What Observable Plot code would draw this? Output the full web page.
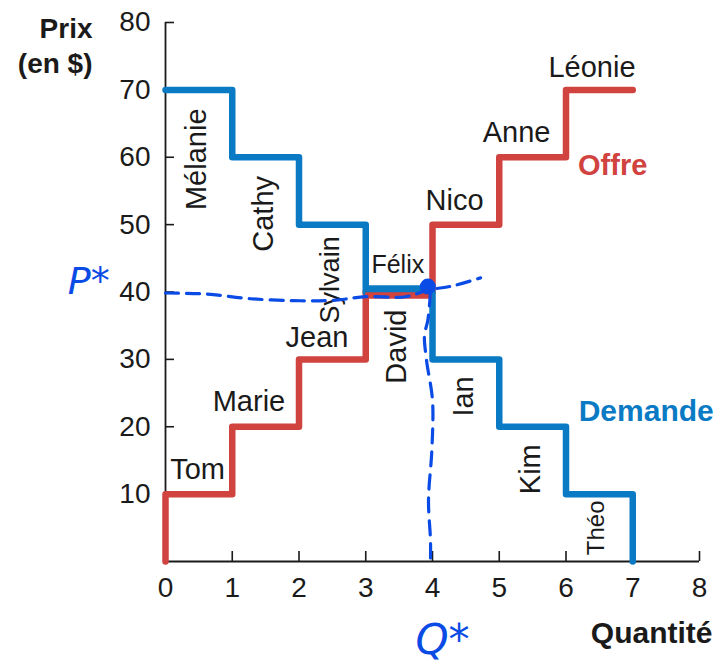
<!DOCTYPE html>
<html>
<head>
<meta charset="utf-8">
<script src="https://cdn.jsdelivr.net/npm/d3@7"></script>
<script src="https://cdn.jsdelivr.net/npm/@observablehq/plot@0.6"></script>
<style>
  html, body { margin: 0; padding: 0; background: #ffffff; }
  #chart svg { display: block; }
</style>
</head>
<body>
<div id="chart"></div>
<script>
// ---------- data ----------
const sellers = ["Tom", "Marie", "Jean", "David", "Nico", "Anne", "Léonie"];
const sellerCosts = [10, 20, 30, 40, 50, 60, 70];
const buyers = ["Mélanie", "Cathy", "Sylvain", "Félix", "Ian", "Kim", "Théo"];
const buyerValues = [70, 60, 50, 40, 30, 20, 10];

// step vertices (quantity, price)
const supplyQty = [0, 0, 1, 2, 3, 4, 5, 6, 7];
const supplyPrice = [0, 10, 20, 30, 40, 50, 60, 70, 70];
const demandQty = [0, 1, 2, 3, 4, 5, 6, 7];
const demandPrice = [70, 60, 50, 40, 30, 20, 10, 0];

const xTicks = [0, 1, 2, 3, 4, 5, 6, 7, 8];
const yTicks = [10, 20, 30, 40, 50, 60, 70, 80];

// shared step (equilibrium)
const eqPrice = 40, eqQFrom = 3, eqQTo = 4;

// hand-drawn annotations (quantity, price)
const pStarQ = [0, 0.6, 1.27, 2.02, 2.55, 3.0, 3.6, 3.94, 4.3, 4.72];
const pStarP = [39.85, 39.7, 39.0, 38.7, 38.8, 39.3, 39.3, 40.3, 40.9, 42.1];
const qStarQ = [3.97, 3.93, 3.88, 3.91, 4.0, 3.99, 3.94, 3.97, 3.97];
const qStarP = [40, 35.8, 33.6, 29.9, 23.9, 16.5, 9.1, 3.1, 0.1];

// ---------- layout of name labels (offsets from step centre) ----------
const sellerLayout = [
  {dx: -0.02, dy: 2.3, rot: false, size: 29},
  {dx: -0.25, dy: 2.4, rot: false, size: 29},
  {dx: -0.23, dy: 1.8, rot: false, size: 29},
  {dx: -0.04, dy: -8.1, rot: true, size: 29},
  {dx: -0.17, dy: 2.2, rot: false, size: 29},
  {dx: -0.24, dy: 2.3, rot: false, size: 29},
  {dx: -0.11, dy: 1.9, rot: false, size: 29}
];
const buyerLayout = [
  {dx: -0.03, dy: -10.3, rot: true, size: 29},
  {dx: -0.03, dy: -8.4, rot: true, size: 29},
  {dx: -0.03, dy: -8.2, rot: true, size: 27},
  {dx: -0.02, dy: 2.8, rot: false, size: 25},
  {dx: -0.03, dy: -5.5, rot: true, size: 29},
  {dx: -0.03, dy: -6.3, rot: true, size: 29},
  {dx: -0.04, dy: -5.0, rot: true, size: 24}
];

const RED = "#d0433f";
const BLUE = "#0a7ac4";
const PEN = "#0a4be6";
const INK = "#1a1a1a";

const supply = supplyQty.map((q, i) => ({q, p: supplyPrice[i]}));
const demand = demandQty.map((q, i) => ({q, p: demandPrice[i]}));
const pStar = pStarQ.map((q, i) => ({q, p: pStarP[i]}));
const qStar = qStarQ.map((q, i) => ({q, p: qStarP[i]}));

const labels = [
  ...sellers.map((name, i) => ({name, x: i + 0.5 + sellerLayout[i].dx, y: sellerCosts[i] + sellerLayout[i].dy, ...sellerLayout[i]})),
  ...buyers.map((name, i) => ({name, x: i + 0.5 + buyerLayout[i].dx, y: buyerValues[i] + buyerLayout[i].dy, ...buyerLayout[i]}))
];

const W = 719, H = 663;
const mL = 165, mR = 20, mT = 22, mB = 102;
const frameW = W - mL - mR, frameH = H - mT - mB;

const textMarks = labels.map(d => Plot.text([d], {
  x: "x", y: "y", text: "name",
  fontSize: d.size,
  fill: INK,
  rotate: d.rot ? -90 : 0,
  textAnchor: "middle",
  lineAnchor: d.rot ? "middle" : "bottom"
}));

const chart = Plot.plot({
  width: W, height: H,
  marginLeft: mL, marginRight: mR, marginTop: mT, marginBottom: mB,
  x: {domain: [0, 8]},
  y: {domain: [0, 80]},
  style: {fontFamily: '"Liberation Sans", Arial, Helvetica, sans-serif', fontSize: "28px", color: INK, background: "white", overflow: "visible"},
  marks: [
    // axes
    Plot.axisX(xTicks, {tickSize: 0, tickPadding: 16, fontSize: 28, label: null}),
    Plot.axisY(yTicks, {tickSize: 0, tickPadding: 15, fontSize: 28, label: null}),
    Plot.tickX(xTicks.slice(1), {x: d => d, stroke: INK, strokeWidth: 1.6, insetTop: frameH - 10}),
    Plot.tickY(yTicks, {y: d => d, stroke: INK, strokeWidth: 1.6, insetRight: frameW - 9}),
    Plot.ruleY([0], {stroke: INK, strokeWidth: 1.8}),
    Plot.ruleX([0], {stroke: INK, strokeWidth: 1.8}),

    // supply & demand steps
    Plot.line(supply, {x: "q", y: "p", curve: "step-after", stroke: RED, strokeWidth: 6.5, strokeLinecap: "round", strokeLinejoin: "round"}),
    Plot.line(demand, {x: "q", y: "p", curve: "step-after", stroke: BLUE, strokeWidth: 6.5, strokeLinecap: "round", strokeLinejoin: "round"}),
    Plot.ruleY([eqPrice], {x1: eqQFrom, x2: eqQTo, stroke: RED, strokeWidth: 6.5, dy: 3.5}),
    Plot.ruleY([eqPrice], {x1: eqQFrom, x2: eqQTo, stroke: BLUE, strokeWidth: 6.5, dy: -3.5}),

    // name labels
    ...textMarks,

    // series labels
    Plot.text(["Offre"], {x: 6.18, y: 57.4, textAnchor: "start", lineAnchor: "bottom", fontWeight: "bold", fontSize: 29, fill: RED}),
    Plot.text(["Demande"], {x: 6.19, y: 20.8, textAnchor: "start", lineAnchor: "bottom", fontWeight: "bold", fontSize: 30, fill: BLUE}),

    // axis titles
    Plot.text(["Prix\n(en $)"], {frameAnchor: "top-left", dx: -73, dy: -9, textAnchor: "end", lineAnchor: "top", fontWeight: "bold", fontSize: 28, lineHeight: 1.25, fill: INK}),
    Plot.text(["Quantité"], {frameAnchor: "bottom-right", dx: 13, dy: 81, textAnchor: "end", lineAnchor: "bottom", fontWeight: "bold", fontSize: 30, fill: INK}),

    // hand-drawn annotations
    Plot.line(pStar, {x: "q", y: "p", curve: "catmull-rom", stroke: PEN, strokeWidth: 3.2, strokeDasharray: "13,8", strokeLinecap: "round"}),
    Plot.line(qStar, {x: "q", y: "p", curve: "catmull-rom", stroke: PEN, strokeWidth: 3.2, strokeDasharray: "14,9", strokeLinecap: "round"}),
    Plot.dot([{q: 3.93, p: 40.8}], {x: "q", y: "p", r: 8, fill: PEN}),
    Plot.text(["P*"], {x: -1.15, y: 41.5, fontSize: 38, fontStyle: "italic", fill: PEN, fontFamily: '"DejaVu Sans", sans-serif'}),
    Plot.text(["Q*"], {x: 4.15, y: -11.8, fontSize: 42, fontStyle: "italic", fill: PEN, fontFamily: '"DejaVu Sans", sans-serif'})
  ]
});

document.getElementById("chart").appendChild(chart);
</script>
</body>
</html>
